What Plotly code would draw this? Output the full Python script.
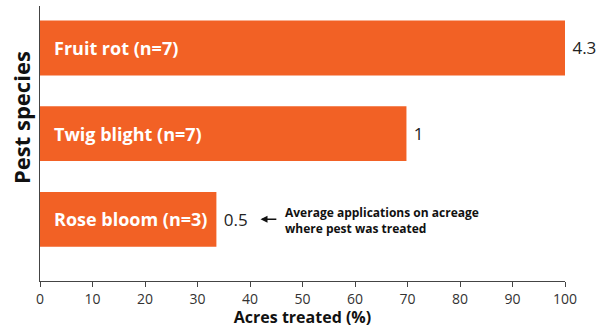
import plotly.graph_objects as go

# Pest species (bottom to top as drawn), share of acres treated and average applications
species = ["Rose bloom (n=3)", "Twig blight (n=7)", "Fruit rot (n=7)"]
acres_treated = [33.6, 69.8, 100]
avg_applications = ["0.5", "1", "4.3"]
x_ticks = list(range(0, 101, 10))

ORANGE = "#F26125"
FONT = "Open Sans"

fig = go.Figure()
fig.add_trace(go.Bar(
    y=species,
    x=acres_treated,
    orientation="h",
    marker=dict(color=ORANGE, line=dict(width=0)),
    width=0.64,
    text=avg_applications,
    texttemplate=" %{text}",
    textposition="outside",
    textfont=dict(family=FONT, size=17, color="#222222"),
    cliponaxis=False,
    hoverinfo="skip",
))

# species names inside the bars
for name in species:
    fig.add_annotation(
        x=0, y=name, text=f"<b>{name}</b>", showarrow=False,
        xanchor="left", xshift=12,
        font=dict(family=FONT, size=18, color="white"),
    )

# explanatory note pointing at the value labels
fig.add_annotation(
    x=46.2, y=species[0], xref="x", yref="y", yshift=-1,
    text="<b>Average applications on acreage<br>where pest was treated</b>",
    showarrow=False, xanchor="left", align="left",
    font=dict(family=FONT, size=12, color="#111111"),
)
fig.add_annotation(
    x=42.0, y=species[0], ax=45.3, ay=species[0],
    xref="x", yref="y", axref="x", ayref="y",
    text="", showarrow=True, arrowhead=2, arrowsize=1, arrowwidth=1.4,
    arrowcolor="#111111",
)

# vertical axis title, set a little above the middle of the axis
fig.add_annotation(
    x=0, y=0.6, xref="paper", yref="paper", xshift=-19, yshift=-2,
    text="<b>Pest species</b>", textangle=-90, showarrow=False,
    xanchor="center", yanchor="middle",
    font=dict(family=FONT, size=22, color="#111111"),
)

fig.update_layout(
    width=602, height=328,
    margin=dict(l=40, r=37, t=6, b=45),
    plot_bgcolor="white", paper_bgcolor="white",
    showlegend=False,
    font=dict(family=FONT, color="#222222"),
)
fig.update_xaxes(
    range=[0, 100], tickvals=x_ticks,
    showgrid=False, zeroline=False,
    showline=True, linecolor="#444444", linewidth=1,
    ticks="outside", ticklen=5, tickcolor="#444444",
    tickfont=dict(family=FONT, size=14, color="#333333"),
    title=dict(text="<b>Acres treated (%)</b>", standoff=3,
               font=dict(family=FONT, size=16, color="#111111")),
)
fig.update_yaxes(
    range=[-0.72, 2.49],
    showticklabels=False, showgrid=False, zeroline=False,
    showline=True, linecolor="#444444", linewidth=1,
)

fig.write_html("out.html")
